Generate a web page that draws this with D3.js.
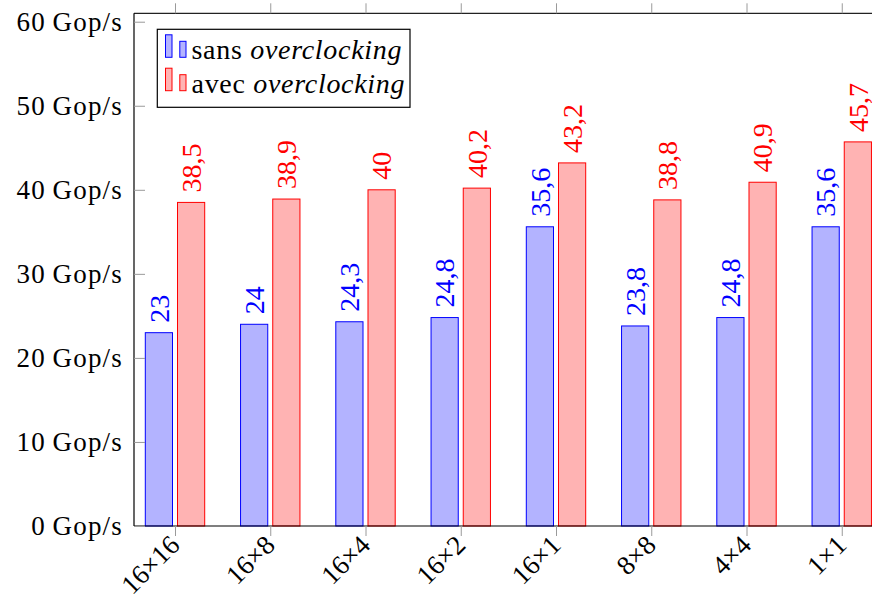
<!DOCTYPE html>
<html>
<head>
<meta charset="utf-8">
<script src="https://cdn.jsdelivr.net/npm/d3@7"></script>
<style>
  html, body { margin: 0; padding: 0; background: #fff; }
  svg { display: block; }
  svg text { font-family: "Liberation Serif", "DejaVu Serif", serif; }
</style>
</head>
<body>
<svg id="chart" width="872" height="601"></svg>
<script>
// Throughput per block configuration, with and without overclocking (Gop/s)
const categories = ["16×16", "16×8", "16×4", "16×2", "16×1", "8×8", "4×4", "1×1"];
const sansOC = [23, 24, 24.3, 24.8, 35.6, 23.8, 24.8, 35.6];
const avecOC = [38.5, 38.9, 40, 40.2, 43.2, 38.8, 40.9, 45.7];
const yTicks = [0, 10, 20, 30, 40, 50, 60];
const seriesNames = ["sans", "avec"];

const BLUE = "#0000ff", BLUE_FILL = "#b3b3ff";
const RED = "#ff0000", RED_FILL = "#ffb3b3";

const svg = d3.select("#chart");

const plotLeft = 134, plotTop = 13.3, plotBottom = 526;
const x = d3.scalePoint().domain(categories).range([175, 841.75]).padding(0);
const plotRight = x(categories[categories.length - 1]) + (x(categories[0]) - plotLeft);
const y = d3.scaleLinear().domain([0, 61]).range([plotBottom, plotTop]);

const fmt = v => String(v).replace(".", ",");

// Bars
const barW = 27.2, gap = 2.5;
const series = [
  { values: sansOC, stroke: BLUE, fill: BLUE_FILL, dx: -gap - barW },
  { values: avecOC, stroke: RED, fill: RED_FILL, dx: gap }
];

series.forEach(s => {
  svg.append("g").selectAll("rect")
    .data(categories)
    .join("rect")
    .attr("x", (c) => x(c) + s.dx)
    .attr("y", (c, i) => y(s.values[i]))
    .attr("width", barW)
    .attr("height", (c, i) => y(0) - y(s.values[i]))
    .attr("fill", s.fill)
    .attr("stroke", s.stroke)
    .attr("stroke-width", 1);

  // Value labels above each bar, reading upward
  svg.append("g").selectAll("text")
    .data(categories)
    .join("text")
    .attr("transform", (c, i) => `translate(${x(c) + s.dx + barW / 2},${y(s.values[i]) - 10}) rotate(-90)`)
    .attr("dy", "0.35em")
    .attr("text-anchor", "start")
    .attr("fill", s.stroke)
    .attr("font-size", 28)
    .text((c, i) => fmt(s.values[i]));
});

// Axis frame
const axisG = svg.append("g");
axisG.append("line").attr("x1", plotLeft).attr("x2", plotRight + 20).attr("y1", plotTop).attr("y2", plotTop)
  .attr("stroke", "#222").attr("stroke-width", 1.2);
axisG.append("line").attr("x1", plotLeft).attr("x2", plotRight + 20).attr("y1", plotBottom).attr("y2", plotBottom)
  .attr("stroke", "#000").attr("stroke-width", 1.2);
axisG.append("line").attr("x1", plotLeft).attr("x2", plotLeft).attr("y1", plotTop).attr("y2", plotBottom)
  .attr("stroke", "#000").attr("stroke-width", 1.2);

// X axis (bottom), ticks outward
const xAxis = svg.append("g")
  .attr("transform", `translate(0,${plotBottom})`)
  .call(d3.axisBottom(x).tickSize(10).tickPadding(0));
xAxis.attr("font-family", null);
xAxis.select(".domain").remove();
xAxis.selectAll(".tick line").attr("stroke", "#9a9a9a").attr("stroke-width", 1);
xAxis.selectAll(".tick text")
  .attr("font-size", 27)
  .attr("fill", "#000")
  .attr("text-anchor", "end")
  .attr("y", null)
  .attr("transform", "translate(-1,14) rotate(-45)")
  .attr("dy", "0.35em");

// X ticks on top, outward
const xTop = svg.append("g")
  .attr("transform", `translate(0,${plotTop})`)
  .call(d3.axisTop(x).tickSize(10).tickFormat(""));
xTop.select(".domain").remove();
xTop.selectAll(".tick line").attr("stroke", "#9a9a9a").attr("stroke-width", 1);

// Y axis (left), ticks inward
const yAxis = svg.append("g")
  .attr("transform", `translate(${plotLeft},0)`)
  .call(d3.axisLeft(y).tickValues(yTicks).tickSize(-11).tickPadding(11)
    .tickFormat(d => d + "\u2009Gop/s"));
yAxis.attr("font-family", null);
yAxis.select(".domain").remove();
yAxis.selectAll(".tick line").attr("stroke", "#9a9a9a").attr("stroke-width", 1);
yAxis.selectAll(".tick text")
  .attr("font-size", 27)
  .attr("fill", "#000")
  .attr("letter-spacing", "1.2px");

// Legend
const legend = svg.append("g");
legend.append("rect")
  .attr("x", 157.3).attr("y", 29.3).attr("width", 252.7).attr("height", 78)
  .attr("fill", "#fff").attr("stroke", "#000").attr("stroke-width", 1.2);

series.forEach((s, i) => {
  const base = 59.3 + i * 33.4;
  legend.append("rect")
    .attr("x", 165.5).attr("y", base - 24.5).attr("width", 6.5).attr("height", 22.5)
    .attr("fill", s.fill).attr("stroke", s.stroke).attr("stroke-width", 1);
  legend.append("rect")
    .attr("x", 179.8).attr("y", base - 18).attr("width", 6.2).attr("height", 16)
    .attr("fill", s.fill).attr("stroke", s.stroke).attr("stroke-width", 1);
  const t = legend.append("text")
    .attr("x", 191.5).attr("y", base)
    .attr("font-size", 28).attr("fill", "#000")
    .attr("letter-spacing", "0.7px");
  t.append("tspan").text(seriesNames[i] + " ");
  t.append("tspan").attr("font-style", "italic").text("overclocking");
});
</script>
</body>
</html>
